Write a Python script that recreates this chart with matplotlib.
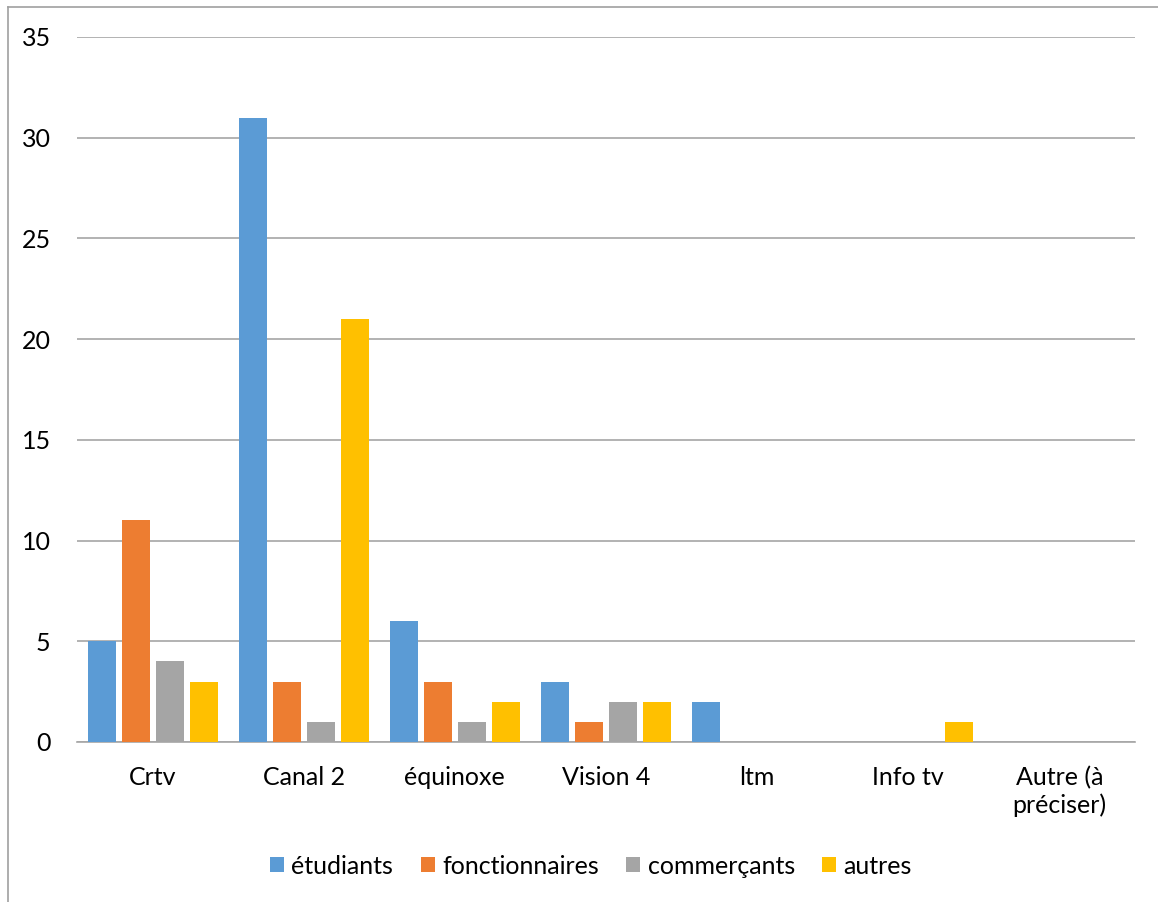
import numpy as np
import matplotlib.pyplot as plt
from matplotlib.lines import Line2D

plt.rcParams["font.family"] = ["Lato", "DejaVu Sans"]

categories = ["Crtv", "Canal 2", "équinoxe", "Vision 4", "ltm", "Info tv", "Autre (à\npréciser)"]
series_names = ["étudiants", "fonctionnaires", "commerçants", "autres"]
etudiants = [5, 31, 6, 3, 2, 0, 0]
fonctionnaires = [11, 3, 3, 1, 0, 0, 0]
commercants = [4, 1, 1, 2, 0, 0, 0]
autres = [3, 21, 2, 2, 0, 1, 0]
colors = ["#5B9BD5", "#ED7D31", "#A5A5A5", "#FFC000"]

fig = plt.figure(figsize=(11.58, 9.02), dpi=100)
ax = fig.add_axes([0.0665, 0.1774, 0.9135, 0.7816])

x = np.arange(len(categories))
step, width = 0.225, 0.185
for k, (name, vals) in enumerate(zip(series_names, [etudiants, fonctionnaires, commercants, autres])):
    ax.bar(x + (k - 1.5) * step, vals, width, color=colors[k], label=name, zorder=3)

ax.set_xlim(-0.5, len(categories) - 0.5)
ax.set_ylim(0, 35)
ax.set_yticks(np.arange(0, 36, 5))
ax.set_xticks(x)
ax.set_xticklabels(categories, fontsize=18, linespacing=1.25)
ax.tick_params(axis="y", labelsize=18, length=0, pad=19)
ax.tick_params(axis="x", length=0, pad=17)
ax.grid(axis="y", color="#A6A6A6", lw=1.2, zorder=0)
for s in ["top", "right", "left"]:
    ax.spines[s].set_visible(False)
ax.spines["bottom"].set_color("#A6A6A6")
ax.spines["bottom"].set_linewidth(1.2)

ax.legend(loc="center", bbox_to_anchor=(0.486, -0.176), ncol=4, frameon=False,
          fontsize=18, handlelength=0.55, handleheight=0.55, columnspacing=1.1,
          handletextpad=0.3)

# outer frame (left and top edges visible in the original)
fig.add_artist(Line2D([8 / 1158, 8 / 1158], [0, 1 - 7 / 902], color="#A0A0A0", lw=1.2))
fig.add_artist(Line2D([8 / 1158, 1], [1 - 7 / 902, 1 - 7 / 902], color="#A0A0A0", lw=1.2))

fig.savefig("out.png", dpi=100)
